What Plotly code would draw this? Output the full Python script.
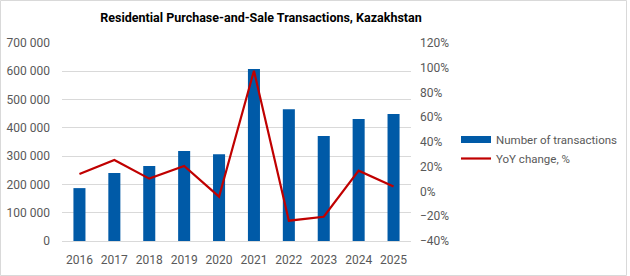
import plotly.graph_objects as go

years = ["2016", "2017", "2018", "2019", "2020", "2021", "2022", "2023", "2024", "2025"]
transactions = [187000, 240000, 265000, 318000, 307000, 608000, 466000, 371000, 431000, 449000]
yoy_pct = [14.1, 25.5, 10.4, 20.6, -4.2, 97.6, -23.6, -20.4, 16.8, 4.0]

W, H = 630, 276
L, R, T, B = 62, 219, 43, 35
pw = W - L - R
ph = H - T - B

BLUE = "#005aa7"
RED = "#c00000"
font = "Roboto, Arial, sans-serif"
fig = go.Figure()
fig.add_trace(go.Bar(x=years, y=transactions, name="Number of transactions",
                     marker=dict(color=BLUE, line=dict(width=0)), yaxis="y",
                     showlegend=False))
fig.add_trace(go.Scatter(x=years, y=yoy_pct, name="YoY change, %", mode="lines",
                         line=dict(color=RED, width=2.2), yaxis="y2", showlegend=False))
# legend entries
fig.add_trace(go.Scatter(x=[None], y=[None], name="Number of transactions", mode="lines",
                         line=dict(color=BLUE, width=7), yaxis="y"))
fig.add_trace(go.Scatter(x=[None], y=[None], name="YoY change, %", mode="lines",
                         line=dict(color=RED, width=2.2), yaxis="y2"))

fig.update_layout(
    width=W, height=H,
    margin=dict(l=L, r=R, t=T, b=B, autoexpand=False),
    paper_bgcolor="white", plot_bgcolor="white",
    separators=". ",
    font=dict(family=font, size=12, color="#595959"),
    bargap=0.655,
    showlegend=True,
    title=dict(text="<b>Residential Purchase-and-Sale Transactions, Kazakhstan</b>",
               x=(261 - L) / pw, xref="paper", xanchor="center",
               y=1 - 18 / H, yref="container", yanchor="middle",
               font=dict(family=font, size=12.5, color="#000000")),
    xaxis=dict(type="category", showgrid=False, showline=True, linecolor="#d9d9d9",
               ticks="", ticklabelstandoff=8, tickfont=dict(size=12, color="#595959")),
    yaxis=dict(range=[0, 700000], dtick=100000, tickformat=",d", showgrid=True,
               gridcolor="#d9d9d9", zeroline=False, showline=False, ticks="",
               ticklabelstandoff=11, tickfont=dict(size=12, color="#595959")),
    yaxis2=dict(range=[-40, 120], dtick=20, ticksuffix="%", overlaying="y", side="right",
                showgrid=False, zeroline=False, showline=False, ticks="",
                ticklabelstandoff=8, tickfont=dict(size=12, color="#595959")),
    legend=dict(x=(456 - L) / pw, xanchor="left", y=1 - (125 - T) / ph, yanchor="top",
                font=dict(size=11.5, color="#595959"), bgcolor="rgba(0,0,0,0)",
                itemwidth=30, tracegroupgap=4),
)

# Outer chart border
fig.add_shape(type="rect", xref="paper", yref="paper",
              x0=(-L + 0.5) / pw, x1=(W - L - 3.5) / pw,
              y0=(-B + 0.5) / ph, y1=1 + (T - 0.5) / ph,
              line=dict(color="#d9d9d9", width=1), fillcolor="rgba(0,0,0,0)", layer="below")

fig.write_html("out.html")
